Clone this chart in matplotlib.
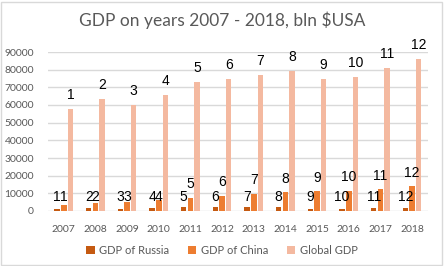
import matplotlib.pyplot as plt
from matplotlib.patches import Patch, Rectangle
import numpy as np

years = ['2007', '2008', '2009', '2010', '2011', '2012',
         '2013', '2014', '2015', '2016', '2017', '2018']
gdp_russia = [1300, 1660, 1220, 1520, 2050, 2210, 2290, 2060, 1360, 1280, 1570, 1660]
gdp_china = [3550, 4590, 5100, 6090, 7550, 8530, 9570, 10480, 11060, 11230, 12310, 13890]
gdp_global = [58000, 63400, 60200, 65900, 73200, 74800, 77000, 79300, 74800, 75900, 81000, 86000]
labels = [str(i) for i in range(1, 13)]

series_names = ['GDP of Russia', 'GDP of China', 'Global GDP']
colors = ['#C55A11', '#ED7D31', '#F4B9A0']

W, H = 444, 266
fig = plt.figure(figsize=(W / 100, H / 100), dpi=100)
fig.patch.set_facecolor('white')

# border around the whole chart
fig.add_artist(Rectangle((0.5 / W, 1.5 / H), 441 / W, 263 / H, transform=fig.transFigure,
                         fill=False, edgecolor='#D9D9D9', linewidth=1))

ax = fig.add_axes([48 / W, (H - 211) / H, 380 / W, 159 / H])

x = np.arange(len(years))
width = 0.17
offsets = [-0.215, 0.0, 0.205]
low_level = 5400  # small bars get their labels on a common line, like in Excel
for vals, off, col in zip([gdp_russia, gdp_china, gdp_global], offsets, colors):
    bars = ax.bar(x + off, vals, width, color=col, zorder=3)
    for b, lab in zip(bars, labels):
        v = b.get_height()
        if v < 7000:
            xy, dy = (b.get_x() + b.get_width() / 2, low_level), 0
        else:
            xy, dy = (b.get_x() + b.get_width() / 2, v), 7
        ax.annotate(lab, xy, xytext=(0, dy), textcoords='offset points',
                    ha='center', va='baseline', fontsize=10,
                    family='Liberation Sans', color='black', zorder=4)

ax.set_xlim(-0.5, len(years) - 0.5)
ax.set_ylim(0, 90000)
ax.set_yticks(range(0, 90001, 10000))
ax.yaxis.grid(True, color='#D9D9D9', linewidth=1, zorder=0)
for s in ax.spines.values():
    s.set_visible(False)
ax.tick_params(length=0, colors='#595959', labelsize=7.5)
ax.tick_params(axis='y', pad=10)
ax.tick_params(axis='x', pad=10)
ax.set_xticks(x)
ax.set_xticklabels(years)
for t in ax.get_xticklabels() + ax.get_yticklabels():
    t.set_family('Lato')

fig.text(222 / W, 1 - 20 / H, 'GDP on years 2007 - 2018, bln $USA', ha='center', va='center',
         fontsize=12.5, color='#595959', family='Lato')

handles = [Patch(facecolor=c, edgecolor='none') for c in colors]
leg = fig.legend(handles, series_names, loc='center', ncol=3,
                 bbox_to_anchor=(222 / W, 1 - 250 / H), frameon=False,
                 prop={'family': 'Lato', 'size': 8}, handlelength=0.75, handleheight=0.75,
                 handletextpad=0.4, columnspacing=1.7)
for t in leg.get_texts():
    t.set_color('#595959')

fig.savefig('out.png', dpi=100, facecolor='white')
